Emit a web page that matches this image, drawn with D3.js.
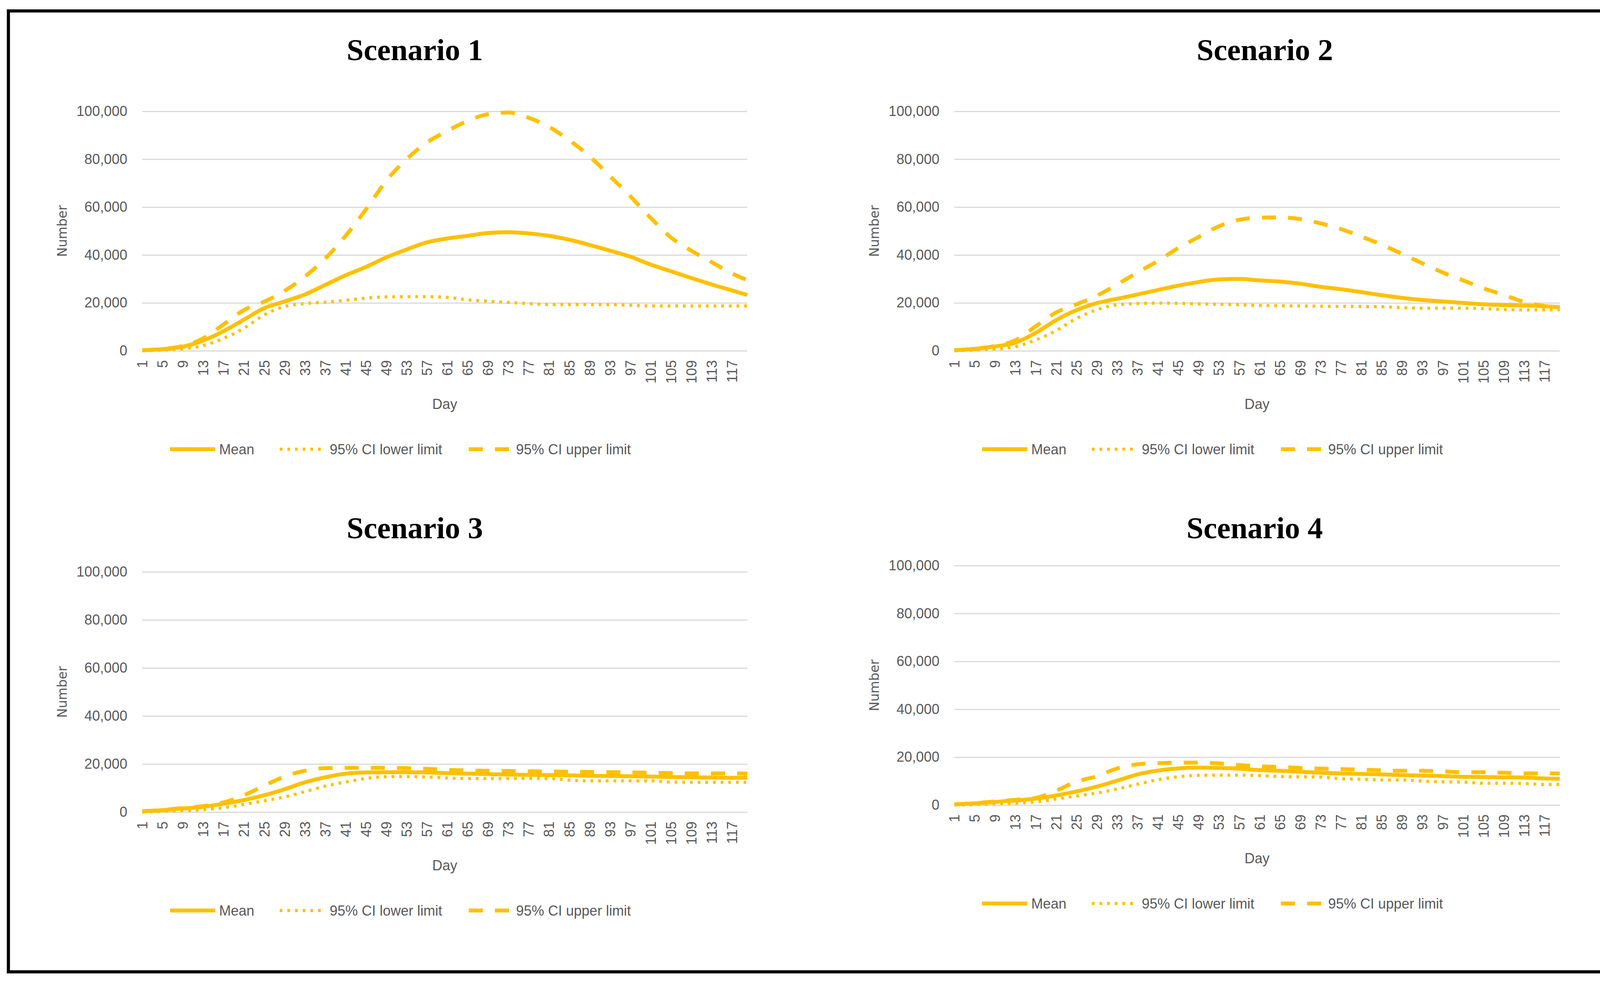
<!DOCTYPE html>
<html>
<head>
<meta charset="utf-8">
<script src="https://cdn.jsdelivr.net/npm/d3@7"></script>
<style>
  body { margin: 0; background: #fff; }
  svg text { font-family: "Liberation Sans", Arial, sans-serif; }
</style>
</head>
<body>
<svg id="chart" width="4238" height="2514"></svg>
<script>
const days = [1, 5, 9, 13, 17, 21, 25, 29, 33, 37, 41, 45, 49, 53, 57, 61, 65, 69, 73, 77, 81, 85, 89, 93, 97, 101, 105, 109, 113, 117, 120];
const dayLabels = [1, 5, 9, 13, 17, 21, 25, 29, 33, 37, 41, 45, 49, 53, 57, 61, 65, 69, 73, 77, 81, 85, 89, 93, 97, 101, 105, 109, 113, 117];
const yTicks = [0, 20000, 40000, 60000, 80000, 100000];
const titles = ['Scenario 1', 'Scenario 2', 'Scenario 3', 'Scenario 4'];
const seriesNames = ['Mean', '95% CI lower limit', '95% CI upper limit'];

const s1Mean  = [200, 700, 1700, 4300, 8200, 13000, 17800, 20600, 23500, 27500, 31500, 35000, 39000, 42300, 45300, 46900, 48000, 49200, 49500, 49000, 48000, 46400, 44200, 41800, 39300, 36000, 33200, 30400, 27700, 25200, 23300];
const s1Lower = [0, 300, 800, 2200, 5200, 9400, 15000, 18500, 19700, 20300, 21100, 22000, 22500, 22600, 22600, 22300, 21300, 20700, 20200, 19700, 19300, 19300, 19300, 19300, 19000, 18700, 18700, 18700, 18700, 18700, 18700];
const s1Upper = [200, 800, 2000, 5200, 11000, 17000, 20500, 25000, 31000, 38500, 48000, 59000, 71000, 80000, 87000, 91800, 96000, 98800, 99500, 97300, 93500, 87900, 81200, 72900, 64500, 55500, 47300, 41800, 37000, 32300, 29500];

const s2Mean  = [200, 800, 1800, 3400, 7500, 12800, 17000, 19900, 21700, 23500, 25400, 27200, 28700, 29800, 30000, 29400, 28900, 28000, 26700, 25700, 24500, 23200, 22100, 21200, 20600, 20000, 19400, 19100, 18900, 18600, 18200];
const s2Lower = [0, 300, 700, 1700, 4500, 8400, 13500, 17100, 19200, 19700, 19900, 19800, 19600, 19400, 19200, 18900, 18800, 18700, 18600, 18500, 18500, 18400, 18000, 17800, 17800, 17800, 17600, 17200, 17100, 17100, 17100];
const s2Upper = [200, 900, 2000, 4400, 10200, 16000, 19400, 23000, 27700, 32700, 37500, 42900, 47500, 52000, 54700, 55600, 55700, 55000, 53200, 50800, 47700, 44300, 40500, 36500, 32700, 29400, 26100, 23300, 20400, 18700, 18000];

const s3Mean  = [300, 800, 1500, 2200, 3500, 5000, 7000, 9500, 12400, 14500, 16000, 16500, 16600, 16600, 16500, 16200, 16000, 15800, 15600, 15500, 15400, 15300, 15100, 15000, 14900, 14800, 14600, 14500, 14400, 14300, 14300];
const s3Lower = [0, 300, 600, 1000, 1800, 3200, 4700, 6300, 8500, 10800, 12500, 14000, 14700, 14800, 14600, 14200, 14000, 14000, 14000, 14000, 14000, 13300, 13000, 13000, 13000, 13000, 12500, 12400, 12400, 12400, 12400];
const s3Upper = [300, 900, 1700, 2500, 4000, 7000, 11000, 14800, 17200, 18300, 18400, 18400, 18400, 18300, 18000, 17600, 17300, 17200, 17100, 17000, 16900, 16800, 16700, 16600, 16500, 16400, 16200, 16100, 16100, 16100, 16000];

const s4Mean  = [300, 700, 1300, 1900, 2700, 4000, 5700, 7700, 10200, 12800, 14400, 15300, 15600, 15500, 15200, 14600, 14300, 13900, 13500, 13200, 13000, 12800, 12500, 12300, 12100, 11800, 11700, 11600, 11500, 11100, 11000];
const s4Lower = [0, 200, 500, 800, 1300, 2500, 3800, 5000, 6700, 8700, 10600, 11800, 12400, 12500, 12500, 12300, 11900, 11800, 11700, 11000, 10800, 10500, 10500, 10000, 9700, 9600, 9100, 9100, 9000, 8600, 8600];
const s4Upper = [300, 800, 1500, 2200, 3000, 6000, 9800, 12000, 15300, 17000, 17500, 17700, 17700, 17400, 16700, 16200, 15900, 15500, 15200, 15000, 14800, 14500, 14300, 14300, 14100, 13700, 13700, 13500, 13200, 13200, 13200];

const scenarioData = [
  [s1Mean, s1Lower, s1Upper],
  [s2Mean, s2Lower, s2Upper],
  [s3Mean, s3Lower, s3Upper],
  [s4Mean, s4Lower, s4Upper]
];

// layout of the four panels (plot area + title centre)
const panels = [
  {left: 364,  right: 1913, top: 285,  bottom: 898,  titleX: 1062, titleY: 154,  legendY: 1150},
  {left: 2443, right: 3993, top: 285,  bottom: 898,  titleX: 3238, titleY: 154,  legendY: 1150},
  {left: 364,  right: 1913, top: 1464, bottom: 2079, titleX: 1062, titleY: 1378, legendY: 2331},
  {left: 2443, right: 3993, top: 1448, bottom: 2061, titleX: 3212, titleY: 1378, legendY: 2313}
];

const gold = '#FFC000';
const grey = '#595959';
const styles = [
  {width: 10, dash: null},
  {width: 8, dash: '7,12.6'},
  {width: 10, dash: '36,31'}
];

const svg = d3.select('#chart');

svg.append('rect')
  .attr('width', 4238).attr('height', 2514)
  .attr('fill', '#fff');

svg.append('rect')
  .attr('x', 21.5).attr('y', 28)
  .attr('width', 4211 - 21.5).attr('height', 2488 - 28)
  .attr('fill', 'none')
  .attr('stroke', '#000')
  .attr('stroke-width', 8);

panels.forEach((p, i) => {
  const w = p.right - p.left;
  const h = p.bottom - p.top;

  const x = d3.scaleLinear().domain([1, 120]).range([0, w]);
  const y = d3.scaleLinear().domain([0, 100000]).range([h, 0]);

  const g = svg.append('g')
    .attr('transform', 'translate(' + p.left + ',' + p.top + ')');

  // gridlines + y labels
  const yAxis = g.append('g')
    .call(d3.axisLeft(y).tickValues(yTicks).tickSize(-w).tickPadding(38).tickFormat(d3.format(',')));
  yAxis.select('.domain').remove();
  yAxis.selectAll('line').attr('stroke', '#d9d9d9').attr('stroke-width', 3);
  yAxis.selectAll('text')
    .attr('font-size', 36)
    .attr('fill', grey)
    .attr('font-family', '"Liberation Sans", Arial, sans-serif');

  // x labels, rotated
  const xAxis = g.append('g')
    .attr('transform', 'translate(0,' + h + ')')
    .call(d3.axisBottom(x).tickValues(dayLabels).tickSize(0));
  xAxis.select('.domain').remove();
  xAxis.selectAll('text')
    .attr('transform', 'rotate(-90)')
    .attr('x', -24)
    .attr('y', 0)
    .attr('dy', '0.35em')
    .attr('text-anchor', 'end')
    .attr('font-size', 36)
    .attr('fill', grey)
    .attr('font-family', '"Liberation Sans", Arial, sans-serif');

  // series
  const line = d3.line()
    .x((d, k) => x(days[k]))
    .y(d => y(d))
    .curve(d3.curveMonotoneX);

  scenarioData[i].forEach((vals, k) => {
    g.append('path')
      .datum(vals)
      .attr('d', line)
      .attr('fill', 'none')
      .attr('stroke', gold)
      .attr('stroke-width', styles[k].width)
      .attr('stroke-dasharray', styles[k].dash)
      .attr('stroke-linejoin', 'round');
  });

  // axis titles
  g.append('text')
    .attr('x', w / 2)
    .attr('y', h + 136)
    .attr('dy', '0.35em')
    .attr('text-anchor', 'middle')
    .attr('font-size', 36)
    .attr('fill', grey)
    .text('Day');

  g.append('text')
    .attr('transform', 'translate(-205,' + (h / 2) + ') rotate(-90)')
    .attr('text-anchor', 'middle')
    .attr('dy', '0.35em')
    .attr('font-size', 33)
    .attr('fill', grey)
    .style('font-family', '"DejaVu Sans", sans-serif')
    .text('Number');

  // chart title
  svg.append('text')
    .attr('x', p.titleX)
    .attr('y', p.titleY)
    .attr('text-anchor', 'middle')
    .attr('font-size', 78)
    .attr('font-weight', 'bold')
    .attr('fill', '#000')
    .style('font-family', '"Liberation Serif", "Times New Roman", serif')
    .text(titles[i]);

  // legend
  const legendItems = [
    {x0: 71, x1: 187, tx: 197},
    {x0: 352, x1: 460, tx: 480},
    {x0: 836, x1: 940, tx: 957}
  ];
  const lg = svg.append('g')
    .attr('transform', 'translate(' + p.left + ',' + p.legendY + ')');
  legendItems.forEach((it, k) => {
    lg.append('line')
      .attr('x1', it.x0).attr('x2', it.x1)
      .attr('y1', 0).attr('y2', 0)
      .attr('stroke', gold)
      .attr('stroke-width', styles[k].width)
      .attr('stroke-dasharray', styles[k].dash);
    lg.append('text')
      .attr('x', it.tx)
      .attr('y', 0)
      .attr('dy', '0.35em')
      .attr('font-size', 36)
      .attr('fill', grey)
      .text(seriesNames[k]);
  });
});
</script>
</body>
</html>
